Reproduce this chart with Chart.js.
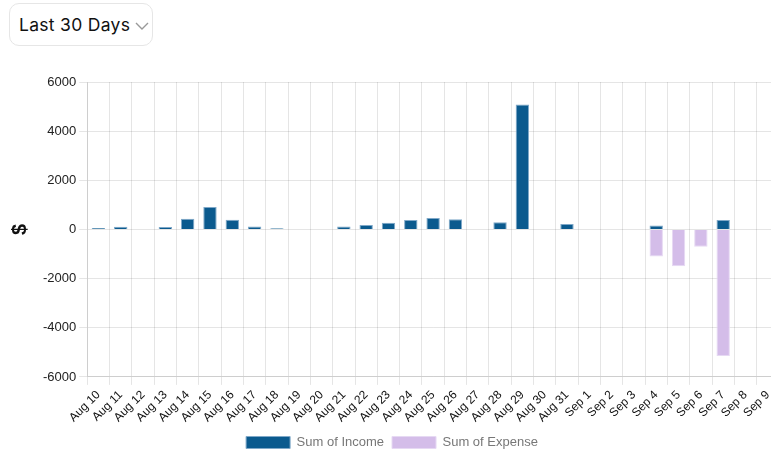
<!DOCTYPE html>
<html>
<head>
<meta charset="utf-8">
<script src="https://cdn.jsdelivr.net/npm/chart.js@4"></script>
<style>
  html, body { margin: 0; padding: 0; background: #fff; overflow: hidden; width: 771px; height: 452px; }
  .dd { position: absolute; left: 9px; top: 3px; width: 144px; height: 43px; border: 1px solid #e6e6e6; border-radius: 10px; box-sizing: border-box; font-family: 'Inter', 'Noto Sans', sans-serif; font-size: 17.5px; letter-spacing: 0.3px; color: #111; }
  .dd span { position: absolute; left: 9px; top: 10px; }
  .dd svg { position: absolute; left: 125px; top: 18px; }
  #wrap { position: absolute; left: 0; top: 60px; width: 781px; height: 399px; }
</style>
</head>
<body>
<div class="dd"><span>Last 30 Days</span><svg width="14" height="9" viewBox="0 0 14 9"><polyline points="1,1 7,7 13,1" fill="none" stroke="#999" stroke-width="1.4"/></svg></div>
<div id="wrap"><canvas id="c" width="781" height="399"></canvas></div>
<script>
const categories = ["Aug 10","Aug 11","Aug 12","Aug 13","Aug 14","Aug 15","Aug 16","Aug 17","Aug 18","Aug 19","Aug 20","Aug 21","Aug 22","Aug 23","Aug 24","Aug 25","Aug 26","Aug 27","Aug 28","Aug 29","Aug 30","Aug 31","Sep 1","Sep 2","Sep 3","Sep 4","Sep 5","Sep 6","Sep 7","Sep 8","Sep 9"];
const income = [55,110,0,100,440,910,400,120,50,0,0,120,180,270,385,463,420,0,290,5080,0,220,0,0,0,160,0,0,380,20,0];
const expense = [0,0,0,0,0,0,0,0,0,0,0,0,0,0,0,0,0,0,0,0,0,0,0,0,0,-1100,-1500,-700,-5150,0,0];
const yTicks = [6000,4000,2000,0,-2000,-4000,-6000];

Chart.defaults.font.family = "'Liberation Sans', Arial, sans-serif";
Chart.defaults.font.size = 13;

new Chart(document.getElementById('c'), {
  type: 'bar',
  data: {
    labels: categories,
    datasets: [
      { label: 'Sum of Income', data: income, backgroundColor: '#0b5a8e', borderColor: '#7fa8c8', borderWidth: 1, categoryPercentage: 0.8, barPercentage: 0.75 },
      { label: 'Sum of Expense', data: expense, backgroundColor: '#d4bde9', borderColor: '#e6d9f3', borderWidth: 1, categoryPercentage: 0.8, barPercentage: 0.75 }
    ]
  },
  options: {
    responsive: false,
    animation: false,
    devicePixelRatio: 1,
    layout: { padding: { top: 22, right: 1, left: 4, bottom: 0 } },
    plugins: {
      legend: { position: 'bottom', labels: { color: '#777', boxWidth: 44, boxHeight: 12, padding: 8, font: { size: 13 } } },
      tooltip: { enabled: false }
    },
    scales: {
      x: {
        stacked: true,
        grid: { color: 'rgba(0,0,0,0.1)', offset: true },
        ticks: { color: '#111', minRotation: 45, maxRotation: 45, autoSkip: false, font: { size: 12 } }
      },
      y: {
        stacked: true,
        min: -6000, max: 6000,
        afterBuildTicks: (axis) => { axis.ticks = yTicks.map(v => ({ value: v })); },
        grid: { color: 'rgba(0,0,0,0.1)' },
        ticks: { color: '#222', font: { size: 13 }, callback: (v) => String(v) },
        title: { display: true, text: '$', color: '#111', padding: { top: 4, bottom: 8 }, font: { size: 20, weight: 'bold' } }
      }
    }
  }
});
</script>
</body>
</html>
